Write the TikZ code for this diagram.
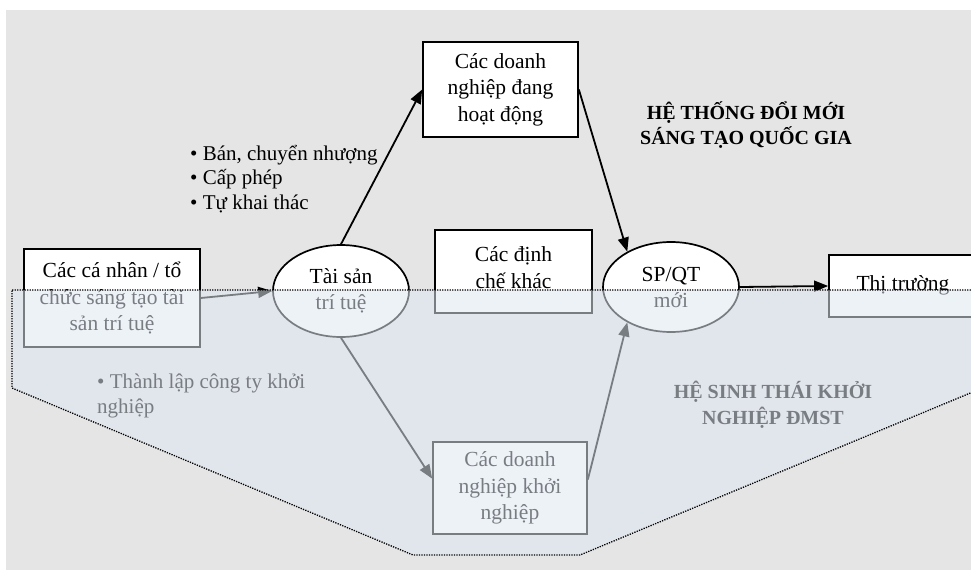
\documentclass[tikz,border=0pt]{standalone}
\usepackage{fontspec}
\setmainfont{Liberation Serif}
\usetikzlibrary{arrows.meta,calc,shapes.geometric}
\definecolor{bgcol}{RGB}{229,229,229}
\definecolor{ecocol}{RGB}{223,231,242}
\begin{document}
\begin{tikzpicture}[x=1pt,y=-1pt,
  boxnode/.style={draw=black, line width=1.7pt, fill=white, inner sep=0pt, align=center,
    font=\fontsize{21.5}{26.5}\selectfont},
  ovalnode/.style={ellipse, draw=black, line width=1.7pt, fill=white, inner sep=0pt, align=center,
    font=\fontsize{21.5}{26}\selectfont},
  arr/.style={line width=1.8pt, -{Triangle[length=14pt,width=11pt]}},
  plaintext/.style={inner sep=0pt, align=left, font=\fontsize{21}{24.5}\selectfont},
  titletext/.style={inner sep=0pt, align=center, font=\fontsize{20}{25.5}\selectfont\bfseries},
  ecoborder/.style={line width=1.3pt, dash pattern=on 1.3pt off 1.2pt}
]
\useasboundingbox (0,0) rectangle (971,570);
\fill[bgcol] (6,10) rectangle (971,570);

% nodes
\node[boxnode, minimum width=176pt, minimum height=98pt] (b1) at (112,298)
  {Các cá nhân / tổ\\chức sáng tạo tài\\sản trí tuệ};
\node[ovalnode, minimum width=136pt, minimum height=92pt] (ip) at (341,291)
  {Tài sản\\trí tuệ};
\node[boxnode, minimum width=155pt, minimum height=95pt] (op) at (500.5,89.5)
  {Các doanh\\nghiệp đang\\hoạt động};
\node[boxnode, minimum width=157pt, minimum height=83pt, text depth=8pt] (ot) at (513.5,271.5)
  {Các định\\chế khác};
\node[ovalnode, minimum width=136pt, minimum height=90pt] (sp) at (671,287)
  {SP/QT\\mới};
\node[boxnode, minimum width=154pt, minimum height=92pt] (st) at (510,488)
  {Các doanh\\nghiệp khởi\\nghiệp};
\node[boxnode, minimum width=148pt, minimum height=62pt, text depth=6pt] (mk) at (903,286)
  {Thị trường};

% connectors
\draw[arr] (b1.east) -- (ip.west);
\draw[arr] (ip.north) -- (op.west);
\draw[arr] (op.east) -- (sp.141);
\draw[arr] (sp.east) -- (mk.west);
\draw[arr] (ip.south) -- ($(st.north west)!0.4!(st.south west)$);
\draw[arr] ($(st.north east)!0.41!(st.south east)$) -- (sp.219);

% texts
\node[plaintext, anchor=west] (lst) at (190,179)
  {• Bán, chuyển nhượng\\• Cấp phép\\• Tự khai thác};
\node[titletext] (nis) at (746,125)
  {HỆ THỐNG ĐỔI MỚI\\SÁNG TẠO QUỐC GIA};
\node[titletext] (eco) at (773,405)
  {HỆ SINH THÁI KHỞI\\NGHIỆP ĐMST};
\node[plaintext, anchor=west] (tl) at (97,396)
  {• Thành lập công ty khởi\\nghiệp};

% ecosystem overlay
\begin{scope}
\clip (6,10) rectangle (971,570);
\fill[ecocol, fill opacity=0.54]
  (12,290) -- (980,290) -- (980,389) -- (580,555) -- (413,555) -- (12,388) -- cycle;
\draw[ecoborder]
  (12,290) -- (980,290) -- (980,389) -- (580,555) -- (413,555) -- (12,388) -- cycle;
\end{scope}
\end{tikzpicture}
\end{document}
